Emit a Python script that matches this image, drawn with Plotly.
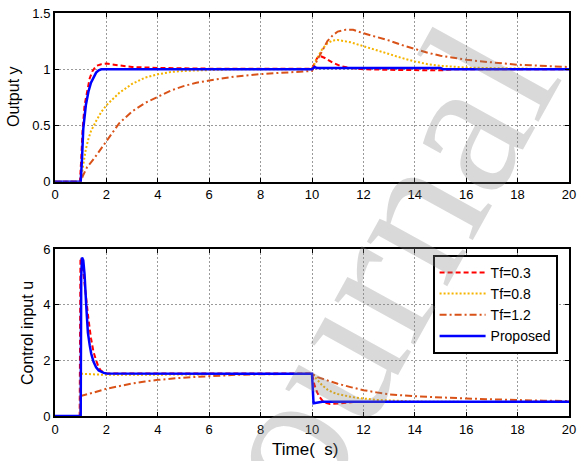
import plotly.graph_objects as go

# ---------------- Output y (upper panel) ----------------
t_y_p = [0, 1.0, 1.05, 1.1, 1.2, 1.3, 1.4, 1.5, 1.6, 1.7, 1.8, 10.0, 10.1, 10.2, 15.0, 15.1, 20]
y_p = [0, 0, 0.2, 0.47, 0.68, 0.8, 0.88, 0.93, 0.97, 0.99, 1.0, 1.0, 1.02, 1.01, 1.01, 1.0, 1.0]

t_y_03 = [0, 0.97, 1.02, 1.07, 1.15, 1.25, 1.35, 1.45, 1.6, 1.8, 2.0, 2.3, 2.6, 3.0, 4.0, 6.0, 10.0,
          10.1, 10.2, 10.3, 10.5, 10.8, 11.1, 11.5, 12.0, 13.0, 14.0, 15.0, 15.5, 20]
y_03 = [0, 0, 0.2, 0.45, 0.68, 0.82, 0.92, 0.98, 1.03, 1.045, 1.05, 1.04, 1.03, 1.02, 1.012, 1.005, 1.005,
        1.05, 1.1, 1.12, 1.1, 1.06, 1.03, 1.01, 1.0, 0.995, 0.99, 0.99, 1.0, 1.0]

t_y_08 = [0, 1.0, 1.1, 1.2, 1.3, 1.4, 1.6, 1.8, 2.0, 2.5, 3.0, 3.5, 4.0, 4.5, 5.0, 6.0, 7.0, 10.0,
          10.2, 10.4, 10.6, 10.8, 11.0, 11.5, 12.0, 12.5, 13.0, 13.5, 14.0, 14.5, 15.0, 15.5, 16.0,
          17.0, 18.0, 19.0, 20.0]
y_08 = [0, 0, 0.15, 0.29, 0.38, 0.45, 0.54, 0.62, 0.68, 0.79, 0.87, 0.925, 0.955, 0.975, 0.985, 0.995, 1.0, 1.0,
        1.1, 1.18, 1.23, 1.255, 1.26, 1.24, 1.205, 1.165, 1.13, 1.1, 1.07, 1.045, 1.03, 1.02, 1.015,
        1.01, 1.005, 1.0, 1.0]

t_y_12 = [0, 1.0, 1.1, 1.25, 1.5, 1.75, 2.0, 2.5, 3.0, 3.5, 4.0, 4.5, 5.0, 5.5, 6.0, 7.0, 8.0, 9.0, 10.0,
          10.2, 10.4, 10.6, 10.8, 11.0, 11.3, 11.6, 12.0, 12.5, 13.0, 13.5, 14.0, 14.5, 15.0, 15.5,
          16.0, 16.5, 17.0, 17.5, 18.0, 18.5, 19.0, 19.5, 20.0]
y_12 = [0, 0, 0.06, 0.13, 0.2, 0.28, 0.37, 0.52, 0.625, 0.7, 0.755, 0.81, 0.85, 0.88, 0.9, 0.935, 0.957, 0.973, 0.985,
        1.08, 1.17, 1.25, 1.3, 1.335, 1.35, 1.35, 1.32, 1.29, 1.255, 1.215, 1.18, 1.147, 1.12, 1.1,
        1.085, 1.072, 1.06, 1.05, 1.04, 1.035, 1.03, 1.025, 1.02]

# ---------------- Control input u (lower panel) ----------------
t_u_p = [0, 1.0, 1.02, 1.05, 1.1, 1.15, 1.22, 1.28, 1.35, 1.41, 1.5, 1.6, 1.7, 1.8, 1.9, 2.0, 10.0,
         10.06, 10.25, 10.4, 20]
u_p = [0, 0, 5.0, 5.7, 5.6, 5.1, 3.9, 3.0, 2.55, 2.24, 1.95, 1.75, 1.64, 1.58, 1.55, 1.53, 1.52,
       0.46, 0.48, 0.51, 0.51]

t_u_03 = [0, 0.96, 0.99, 1.05, 1.1, 1.2, 1.3, 1.4, 1.5, 1.6, 1.7, 1.8, 1.9, 2.0, 10.0,
          10.1, 10.2, 10.3, 10.45, 10.7, 11.0, 11.3, 11.6, 20]
u_03 = [0, 0, 5.7, 5.6, 5.2, 4.3, 3.5, 2.8, 2.3, 2.0, 1.75, 1.62, 1.56, 1.53, 1.53,
        1.1, 0.85, 0.68, 0.5, 0.43, 0.45, 0.48, 0.5, 0.51]

t_u_08 = [0, 0.99, 1.0, 1.5, 2.0, 3.0, 4.0, 6.0, 10.0, 10.2, 10.4, 10.6, 10.8, 11.0, 11.5, 12.0, 12.5,
          13.0, 14.0, 15.0, 16.0, 20.0]
u_08 = [0, 0, 1.52, 1.5, 1.48, 1.48, 1.49, 1.5, 1.52, 1.3, 1.1, 0.95, 0.85, 0.79, 0.69, 0.63, 0.58,
        0.56, 0.52, 0.51, 0.505, 0.5]

t_u_12 = [0, 0.99, 1.0, 1.25, 1.5, 2.0, 2.5, 3.0, 3.5, 4.0, 5.0, 6.0, 7.0, 8.0, 9.0, 10.0,
          10.2, 10.5, 11.0, 11.5, 12.0, 12.5, 13.0, 14.0, 15.0, 16.0, 17.0, 18.0, 19.0, 20.0]
u_12 = [0, 0, 0.72, 0.77, 0.84, 0.98, 1.08, 1.17, 1.24, 1.3, 1.38, 1.44, 1.48, 1.5, 1.51, 1.52,
        1.4, 1.3, 1.16, 1.04, 0.93, 0.85, 0.78, 0.71, 0.66, 0.63, 0.6, 0.57, 0.55, 0.54]

series_names = ["Tf=0.3", "Tf=0.8", "Tf=1.2", "Proposed"]
colors = ["#FF0000", "#F5B400", "#D95319", "#0000FF"]
dashes = ["5px,3px", "2px,2px", "7px,3px,2px,3px", "solid"]
widths = [2, 2, 2, 2.5]

upper = [(t_y_03, y_03), (t_y_08, y_08), (t_y_12, y_12), (t_y_p, y_p)]
lower = [(t_u_03, u_03), (t_u_08, u_08), (t_u_12, u_12), (t_u_p, u_p)]

FONT = "Liberation Sans, Arial, sans-serif"

fig = go.Figure()
for i, name in enumerate(series_names):
    tx, vy = upper[i]
    fig.add_trace(go.Scatter(x=tx, y=vy, mode="lines", name=name, showlegend=False,
                             line=dict(color=colors[i], dash=dashes[i], width=widths[i]),
                             xaxis="x", yaxis="y"))
for i, name in enumerate(series_names):
    tx, vu = lower[i]
    fig.add_trace(go.Scatter(x=tx, y=vu, mode="lines", name=name, showlegend=True,
                             line=dict(color=colors[i], dash=dashes[i], width=widths[i]),
                             xaxis="x2", yaxis="y2"))

axis_common = dict(showline=True, linecolor="black", linewidth=2, mirror="ticks",
                   ticks="inside", ticklen=4, tickcolor="black", tickwidth=1,
                   showgrid=True, gridcolor="#9a9a9a", griddash="2px,2px", gridwidth=1,
                   zeroline=False, tickfont=dict(family=FONT, size=13, color="black"))

fig.update_layout(
    width=582, height=461,
    margin=dict(l=55, r=6, t=10, b=45),
    paper_bgcolor="white", plot_bgcolor="white",
    font=dict(family=FONT, color="black"),
    xaxis=dict(domain=[0, 1], range=[0, 20], dtick=2, anchor="y", **axis_common),
    yaxis=dict(domain=[0.5813, 1], range=[0, 1.5], dtick=0.5, anchor="x", **axis_common),
    xaxis2=dict(domain=[0, 1], range=[0, 20], dtick=2, anchor="y2", **axis_common),
    yaxis2=dict(domain=[0, 0.4138], range=[0, 6], dtick=2, anchor="x2", **axis_common),
    legend=dict(x=0.7346, y=0.4, xanchor="left", yanchor="top",
                bgcolor="white", bordercolor="black", borderwidth=2, itemwidth=46,
                font=dict(family=FONT, size=14, color="black"), tracegroupgap=0),
    showlegend=True,
)

fig.add_annotation(text="Output y", xref="paper", yref="paper", x=-0.0806, y=0.7906,
                   textangle=-90, showarrow=False, xanchor="center", yanchor="middle",
                   font=dict(family=FONT, size=16, color="black"))
fig.add_annotation(text="Control input u", xref="paper", yref="paper", x=-0.0537, y=0.2069,
                   textangle=-90, showarrow=False, xanchor="center", yanchor="middle",
                   font=dict(family=FONT, size=16, color="black"))
fig.add_annotation(text="Time(\u00a0 s)", xref="paper", yref="paper", x=0.4856, y=-0.0837,
                   showarrow=False, xanchor="center", yanchor="middle",
                   font=dict(family=FONT, size=17, color="black"))

# Journal watermark across the figure
fig.add_annotation(text="Journal", xref="paper", yref="paper", x=0.596, y=0.285,
                   textangle=-61, showarrow=False, xanchor="center", yanchor="middle",
                   font=dict(family="Liberation Serif, Times New Roman, serif", size=200,
                             color="rgba(128,128,128,0.3)"))

fig.write_html("out.html")
